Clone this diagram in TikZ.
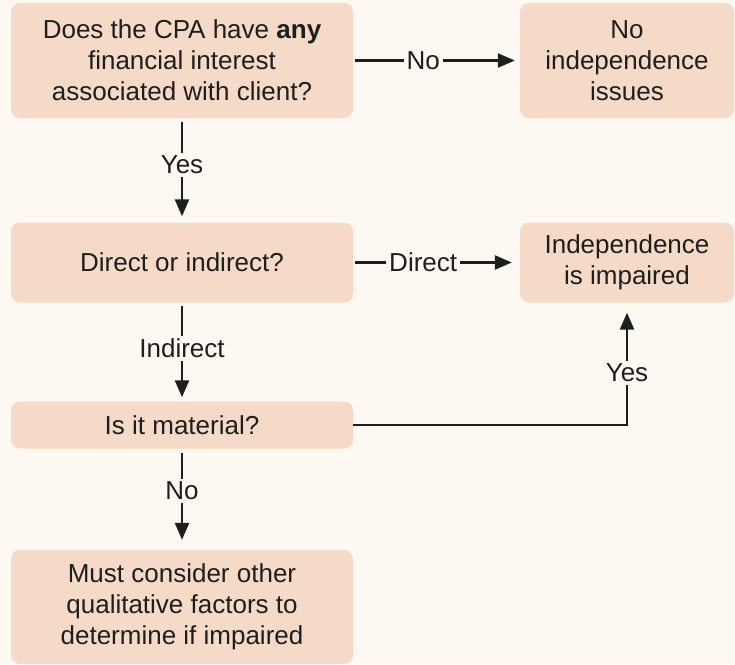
\documentclass[tikz,border=0pt]{standalone}
\usepackage{fontspec}
\setmainfont{Liberation Sans}
\usetikzlibrary{arrows.meta}
\definecolor{bg}{HTML}{FEF8F3}
\definecolor{boxc}{HTML}{F5DBC7}
\definecolor{ink}{HTML}{1E1E1E}
\begin{document}
\begin{tikzpicture}[x=1pt,y=-1pt,
  box/.style={draw=none,fill=boxc,rounded corners=9pt,align=center,text=ink,
    font=\fontsize{26}{31}\selectfont,inner sep=0pt},
  arr/.style={draw=ink,line width=2.5pt,-{Triangle[length=17pt,width=14pt]}},
  lbl/.style={fill=bg,text=ink,font=\fontsize{26}{31}\selectfont,inner sep=3pt}]
\fill[bg] (0,0) rectangle (735,664);
\useasboundingbox (0,0) rectangle (735,664);
\node[box,minimum width=342pt,minimum height=115pt] (q1) at (182,60.5)
  {Does the CPA have \textbf{any}\\financial interest\\associated with client?};
\node[box,minimum width=214pt,minimum height=115pt] (no) at (627,60.5)
  {No\\independence\\issues};
\node[box,minimum width=342pt,minimum height=80pt] (q2) at (182,262.5)
  {Direct or indirect?};
\node[box,minimum width=214pt,minimum height=80pt] (imp) at (627,262.5)
  {Independence\\is impaired};
\node[box,minimum width=342pt,minimum height=47pt] (q3) at (182,425)
  {Is it material?};
\node[box,minimum width=342pt,minimum height=114pt] (q4) at (182,607)
  {Must consider other\\qualitative factors to\\determine if impaired};
\draw[arr,shorten <=2pt,shorten >=5pt] (q1.east) -- node[lbl,pos=0.42] {No} (no.west);
\draw[arr,shorten <=4pt,shorten >=6pt] (q1.south) -- node[lbl,pos=0.45] {Yes} (q2.north);
\draw[arr,shorten <=2pt,shorten >=8pt] (q2.east) -- node[lbl,pos=0.42] {Direct} (imp.west);
\draw[arr,shorten <=3pt,shorten >=4pt] (q2.south) -- node[lbl,pos=0.46] {Indirect} (q3.north);
\draw[arr,shorten <=4pt,shorten >=10pt] (q3.south) -- node[lbl,pos=0.42] {No} (q4.north);
\draw[arr,shorten >=10pt] (q3.east) -| node[lbl,pos=0.713] {Yes} (imp.south);
\end{tikzpicture}
\end{document}
